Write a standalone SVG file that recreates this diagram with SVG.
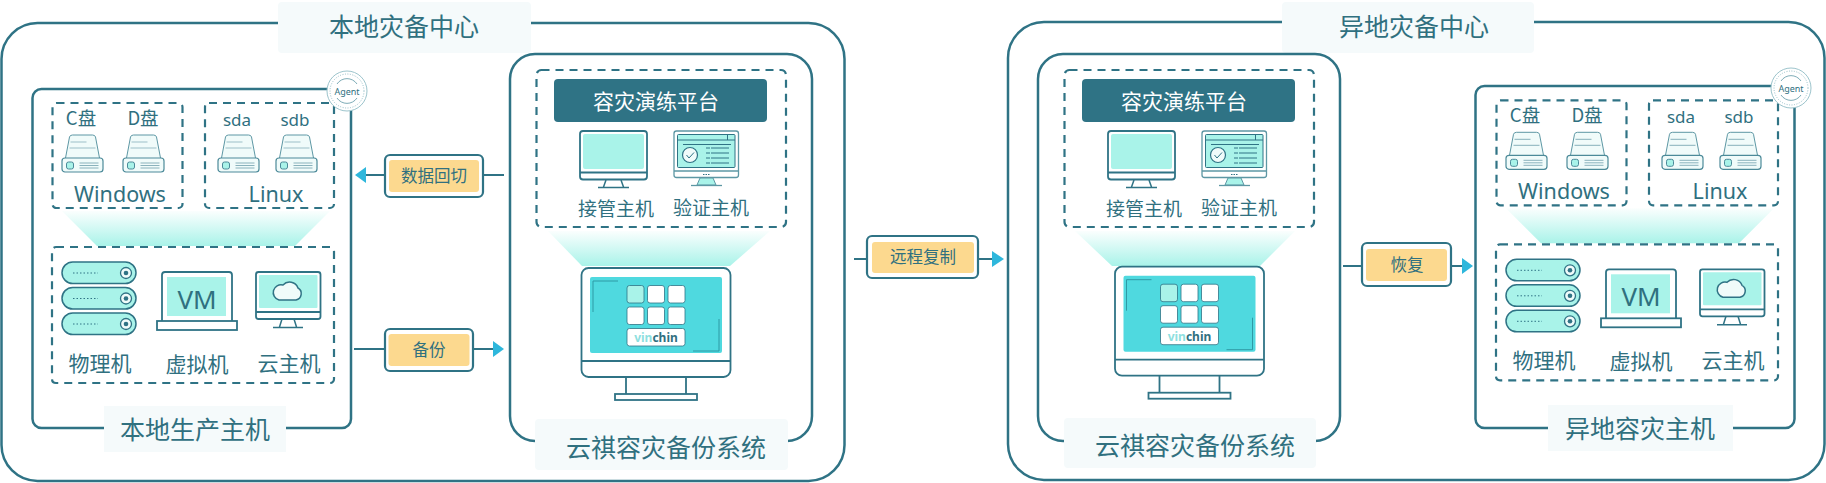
<svg xmlns="http://www.w3.org/2000/svg" xmlns:xlink="http://www.w3.org/1999/xlink" width="1826" height="483" viewBox="0 0 1826 483">
<style>
text{font-family:"Noto Sans","Noto Sans CJK SC",sans-serif;fill:#30707f;text-anchor:middle}
.cjk{font-family:"Noto Sans CJK SC","Noto Sans",sans-serif;font-weight:400}
.box{fill:#fff;stroke:#2f7385;stroke-width:2.5}
.lab{fill:#f5fafb}
.dash{fill:none;stroke:#2f7385;stroke-width:2.2;stroke-dasharray:8 6}
.mint{fill:#a9f3e9}
.conn{stroke:#2f7385;stroke-width:2.2;fill:none}
.tip{fill:#2eb7dc}
.tag{fill:#fff;stroke:#2f7385;stroke-width:2.2}
.yel{fill:#fcd98f}
</style>
<defs>
<linearGradient id="fade" x1="0" y1="0" x2="0" y2="1"><stop offset="0" stop-color="#a9f3e9" stop-opacity=".05"/><stop offset="1" stop-color="#a9f3e9"/></linearGradient>
<g id="disk">
<path d="M4 24 L8 3 Q8.500 1 11 1 H31 Q33.500 1 34 3 L38 24" fill="#f0fbfa" stroke="#5d97a4" stroke-width="1"/>
<rect x="0.500" y="24" width="41" height="14" rx="3" fill="#f0fbfa" stroke="#4c8a99" stroke-width="1.200"/>
<path d="M9 8 H25 M8 14 H34" stroke="#9bbfc7" stroke-width="1.200"/>
<rect x="5" y="28" width="7" height="7" rx="2" fill="#a9f3e9" stroke="#4c8a99"/>
<path d="M18 29 H37 M18 31.500 H37 M18 34 H37" stroke="#8ab2bc"/>
</g>
<g id="server">
<rect x="0" y="0" width="74" height="21.500" rx="10.700" fill="#a9f3e9" stroke="#2f7385" stroke-width="1.500"/>
<path d="M11 11 H36" stroke="#2f7385" stroke-width="1" stroke-dasharray="1.500 2"/>
<circle cx="64" cy="11" r="5.500" fill="#f0fbfa" stroke="#2f7385" stroke-width="1.300"/>
<circle cx="64" cy="11" r="2.300" fill="#2f7385"/>
</g>
<g id="laptop">
<path d="M162 321 V275 Q162 272 165 272 H229 Q232 272 232 275 V321" fill="#fff" stroke="#2f7385" stroke-width="1.800"/>
<rect x="167" y="277" width="59" height="39" class="mint"/>
<rect x="157" y="321" width="80" height="9" fill="#fff" stroke="#2f7385" stroke-width="1.800"/>
</g>
<g id="desktop">
<rect x="256" y="272" width="64.500" height="47" rx="2.500" fill="#fff" stroke="#2f7385" stroke-width="1.800"/>
<rect x="259" y="275" width="58.500" height="33" rx="1" class="mint"/>
<path d="M256 312 H320.500" stroke="#2f7385" stroke-width="1.800"/>
<path d="M282 319 L279.500 327 M294 319 L296.500 327 M273 327.500 H303" stroke="#2f7385" stroke-width="1.500" fill="none"/>
<path d="M279 300 H296 A6.500 6.500 0 0 0 298 288 A9 9 0 0 0 283 285 A7 7 0 0 0 279 300 Z" fill="#f0fbfa" stroke="#2f7385" stroke-width="1.500"/>
</g>
<g id="takeover">
<rect x="580" y="131" width="67" height="48.500" rx="3" fill="#fff" stroke="#2f7385" stroke-width="1.800"/>
<rect x="583" y="134" width="61" height="35" rx="2" class="mint"/>
<path d="M580 172.500 H647" stroke="#2f7385" stroke-width="1.800"/>
<path d="M606 180 L603.500 187 M621 180 L623.500 187 M598 187.500 H629" stroke="#2f7385" stroke-width="1.500" fill="none"/>
</g>
<g id="verify">
<rect x="674" y="131" width="64.500" height="46.500" rx="2.500" fill="#fff" stroke="#5d97a4" stroke-width="1.300"/>
<rect x="677.500" y="134.500" width="57.500" height="33" rx="1" class="mint" stroke="#2f7385"/>
<path d="M677.500 140 H735 M727.500 134.500 V140 M683 144.500 H731" stroke="#2f7385"/>
<circle cx="690" cy="155" r="7.500" fill="#f0fbfa" stroke="#2f7385" stroke-width="1.200"/>
<path d="M686.500 155 L689 158 L694 152.500" fill="none" stroke="#2f7385"/>
<path d="M706 148 H729 M706 153 H729 M706 158 H729 M706 163 H729" stroke="#2f7385" stroke-dasharray="4 1 18"/>
<path d="M674 171 H738.500" stroke="#5d97a4" stroke-width="1.300"/>
<path d="M703 174.500 H710" stroke="#2f7385" stroke-dasharray="1.500 1"/>
<path d="M700 178 L697 185 H716 L713 178 Z" class="mint" stroke="#5d97a4"/>
<path d="M691 185.500 H722" stroke="#5d97a4" stroke-width="1.300"/>
</g>
<g id="bigmon">
<rect x="581.500" y="268" width="149" height="109" rx="7" fill="#fff" stroke="#2f7385" stroke-width="1.800"/>
<rect x="590" y="277" width="132" height="76" rx="2" fill="#4fd9df"/>
<path d="M581.500 361 H730.500" stroke="#2f7385" stroke-width="1.800"/>
<path d="M626 377 V394 M686 377 V394" stroke="#2f7385" stroke-width="1.800"/>
<rect x="615" y="394" width="82" height="6" fill="#fff" stroke="#2f7385" stroke-width="1.800"/>
<path d="M618 281 H593 V312 M719 319 V351 H693" fill="none" stroke="#2f9aa5" stroke-width="1"/>
<g stroke="#2f7385" stroke-width=".8">
<rect x="627" y="285.500" width="17" height="17.500" rx="2.500" fill="#a9f3e9"/>
<rect x="647.500" y="285.500" width="17" height="17.500" rx="2.500" fill="#fff"/>
<rect x="668" y="285.500" width="17" height="17.500" rx="2.500" fill="#fff"/>
<rect x="627" y="307" width="17" height="17.500" rx="2.500" fill="#fff"/>
<rect x="647.500" y="307" width="17" height="17.500" rx="2.500" fill="#fff"/>
<rect x="668" y="307" width="17" height="17.500" rx="2.500" fill="#fff"/>
<rect x="627" y="328.500" width="58" height="17.500" rx="2.500" fill="#fff"/>
</g>
</g>
<g id="badge">
<circle cx="0" cy="0" r="20" fill="#fff" stroke="#9cc4cc" stroke-width="1"/>
<circle cx="0" cy="0" r="17" fill="none" stroke="#7fb0ba" stroke-width=".8" stroke-dasharray="1 1.500"/>
<path d="M-10 -7 A12 12 0 0 1 10 -7 M10 7 A12 12 0 0 1 -10 7" fill="none" stroke="#5d97a4" stroke-width=".8"/>
</g>
</defs>

<g id="local-center">
<rect class="box" x="1.500" y="23" width="843" height="458" rx="36"/>
<rect class="lab" x="278" y="2" width="253" height="51" rx="4"/>
<text class="cjk" x="404" y="36" font-size="25">本地灾备中心</text>
</g>

<g id="local-host">
<rect class="box" x="32.500" y="89" width="318.500" height="339" rx="9"/>
<rect class="lab" x="104" y="406" width="182" height="46"/>
<text class="cjk" x="195" y="439" font-size="25">本地生产主机</text>
<path d="M62 211 H330 L295 246 H97 Z" fill="url(#fade)"/>
<rect class="dash" x="52.500" y="103" width="130" height="105" rx="4"/>
<rect class="dash" x="205" y="103" width="129" height="105" rx="4"/>
<rect class="dash" x="52" y="247" width="282" height="136" rx="4"/>
<text class="cjk" x="81" y="125" font-size="18.500">C盘</text>
<text class="cjk" x="143" y="125" font-size="18.500">D盘</text>
<text x="237" y="126" font-size="17">sda</text>
<text x="295" y="126" font-size="17">sdb</text>
<use href="#disk" x="61.500" y="134"/>
<use href="#disk" x="122.500" y="134"/>
<use href="#disk" x="217.500" y="134"/>
<use href="#disk" x="275.500" y="134"/>
<text x="120" y="202" font-size="21.500">Windows</text>
<text x="276" y="202" font-size="21.500">Linux</text>
<use href="#server" x="62" y="262"/>
<use href="#server" x="62" y="287.500"/>
<use href="#server" x="62" y="313"/>
<use href="#laptop"/>
<text x="197" y="309" font-size="26">VM</text>
<use href="#desktop"/>
<text class="cjk" x="100" y="371" font-size="21">物理机</text>
<text class="cjk" x="197" y="372" font-size="21">虚拟机</text>
<text class="cjk" x="289" y="371" font-size="21">云主机</text>
<use href="#badge" x="347" y="91"/>
<text x="347" y="95" font-size="9">Agent</text>
</g>

<g id="local-backup">
<rect class="box" x="510" y="54" width="302" height="387" rx="25"/>
<rect class="lab" x="535" y="419" width="253" height="51" rx="4"/>
<text class="cjk" x="666" y="457" font-size="25">云祺容灾备份系统</text>
<path d="M548 231 H770 L730 266 H582 Z" fill="url(#fade)"/>
<rect class="dash" x="536.500" y="70" width="249.500" height="157" rx="5"/>
<rect x="554" y="79" width="213" height="43" rx="4" fill="#2f7385"/>
<text class="cjk" x="656" y="109" font-size="21" style="fill:#fff">容灾演练平台</text>
<use href="#takeover"/>
<use href="#verify"/>
<text class="cjk" x="616" y="216" font-size="19">接管主机</text>
<text class="cjk" x="711" y="215" font-size="19">验证主机</text>
<use href="#bigmon"/>
<text x="656" y="342" font-size="12" font-weight="700"><tspan style="fill:#8edfe0">vin</tspan>chin</text>
</g>

<g id="remote-center">
<rect class="box" x="1008" y="22" width="816.500" height="458" rx="36"/>
<rect class="lab" x="1282" y="2" width="252" height="51" rx="4"/>
<text class="cjk" x="1414" y="36" font-size="25">异地灾备中心</text>
</g>

<g id="remote-backup">
<rect class="box" x="1038" y="54" width="302" height="387" rx="25"/>
<rect class="lab" x="1064" y="418" width="252" height="50" rx="4"/>
<text class="cjk" x="1195" y="455" font-size="25">云祺容灾备份系统</text>
<path d="M1075 231 H1295 L1260 266 H1112 Z" fill="url(#fade)"/>
<rect class="dash" x="1064.500" y="70" width="249.500" height="157" rx="5"/>
<rect x="1082" y="79" width="213" height="43" rx="4" fill="#2f7385"/>
<text class="cjk" x="1184" y="109" font-size="21" style="fill:#fff">容灾演练平台</text>
<g transform="translate(528 0)">
<use href="#takeover"/>
<use href="#verify"/>
</g>
<text class="cjk" x="1144" y="216" font-size="19">接管主机</text>
<text class="cjk" x="1239" y="215" font-size="19">验证主机</text>
<g transform="translate(533.500 -1.300)"><use href="#bigmon"/></g>
<text x="1189.500" y="340.700" font-size="12" font-weight="700"><tspan style="fill:#8edfe0">vin</tspan>chin</text>
</g>

<g id="remote-host">
<rect class="box" x="1475.500" y="86" width="319" height="342" rx="9"/>
<rect class="lab" x="1548" y="405" width="185" height="46"/>
<text class="cjk" x="1640" y="438" font-size="25">异地容灾主机</text>
<g transform="translate(1444 -2.700)">
<path d="M62 211 H330 L295 246 H97 Z" fill="url(#fade)"/>
<rect class="dash" x="52.500" y="103" width="130" height="105" rx="4"/>
<rect class="dash" x="205" y="103" width="129" height="105" rx="4"/>
<rect class="dash" x="52" y="247" width="282" height="136" rx="4"/>
<text class="cjk" x="81" y="125" font-size="18.500">C盘</text>
<text class="cjk" x="143" y="125" font-size="18.500">D盘</text>
<text x="237" y="126" font-size="17">sda</text>
<text x="295" y="126" font-size="17">sdb</text>
<use href="#disk" x="61.500" y="134"/>
<use href="#disk" x="122.500" y="134"/>
<use href="#disk" x="217.500" y="134"/>
<use href="#disk" x="275.500" y="134"/>
<text x="120" y="202" font-size="21.500">Windows</text>
<text x="276" y="202" font-size="21.500">Linux</text>
<use href="#server" x="62" y="262"/>
<use href="#server" x="62" y="287.500"/>
<use href="#server" x="62" y="313"/>
<use href="#laptop"/>
<text x="197" y="309" font-size="26">VM</text>
<use href="#desktop"/>
<text class="cjk" x="100" y="371" font-size="21">物理机</text>
<text class="cjk" x="197" y="372" font-size="21">虚拟机</text>
<text class="cjk" x="289" y="371" font-size="21">云主机</text>
</g>
<use href="#badge" x="1791" y="88"/>
<text x="1791" y="92" font-size="9">Agent</text>
</g>

<g id="connectors">
<path class="conn" d="M366 175 H385 M483 175 H504"/>
<path class="tip" d="M355 175 L366 167 V183 Z"/>
<path class="conn" d="M354 349 H385 M473 349 H494"/>
<path class="tip" d="M504 349 L493 341 V357 Z"/>
<path class="conn" d="M854 259 H867 M978 259 H993"/>
<path class="tip" d="M1004 259 L992 251 V267 Z"/>
<path class="conn" d="M1343 266 H1362 M1451 266 H1463"/>
<path class="tip" d="M1473 266 L1462 258 V274 Z"/>
</g>

<g id="tag-restore-back">
<rect class="tag" x="385" y="155" width="98" height="42" rx="5"/>
<rect class="yel" x="389" y="160" width="90" height="32" rx="3"/>
<text class="cjk" x="434" y="182" font-size="16.500">数据回切</text>
</g>
<g id="tag-backup">
<rect class="tag" x="385" y="329" width="88" height="42" rx="5"/>
<rect class="yel" x="388.500" y="334" width="81" height="32" rx="3"/>
<text class="cjk" x="429" y="356" font-size="16.500">备份</text>
</g>
<g id="tag-replicate">
<rect class="tag" x="867" y="236" width="111" height="42" rx="5"/>
<rect class="yel" x="872" y="242" width="102" height="31" rx="3"/>
<text class="cjk" x="923" y="263" font-size="16.500">远程复制</text>
</g>
<g id="tag-recover">
<rect class="tag" x="1362" y="243" width="89" height="43" rx="5"/>
<rect class="yel" x="1366" y="249" width="81" height="32" rx="3"/>
<text class="cjk" x="1407" y="271" font-size="16.500">恢复</text>
</g>
</svg>
